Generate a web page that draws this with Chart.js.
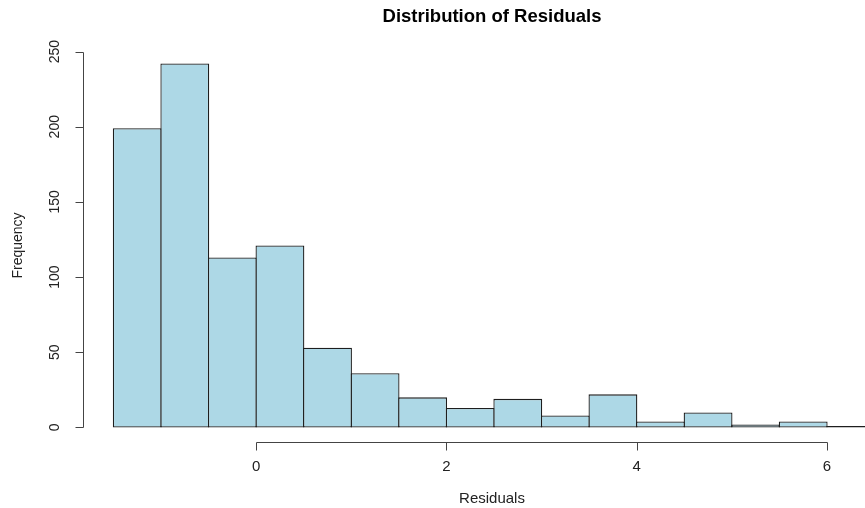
<!DOCTYPE html>
<html>
<head>
<meta charset="utf-8">
<script src="https://cdn.jsdelivr.net/npm/chart.js@4"></script>
<style>
  html, body { margin: 0; padding: 0; background: #fff; }
  #wrap { width: 865px; height: 508px; overflow: hidden; position: relative; }
  #chart { display: block; }
</style>
</head>
<body>
<div id="wrap"><canvas id="chart" width="910" height="508"></canvas></div>
<script>
// histogram data (bin edges + counts per bin)
const breaks = [-1.5, -1, -0.5, 0, 0.5, 1, 1.5, 2, 2.5, 3, 3.5, 4, 4.5, 5, 5.5, 6, 6.5];
const counts = [199, 242, 113, 121, 53, 36, 20, 13, 19, 8, 22, 4, 10, 2, 4, 1];
const xTicks = [0, 2, 4, 6];
const yTicks = [0, 50, 100, 150, 200, 250];

const titleText = 'Distribution of Residuals';
const xLabel = 'Residuals';
const yLabel = 'Frequency';

const FONT = "'Liberation Sans', Arial, Helvetica, sans-serif";

// R-style extension of the plot range (4% on each side)
const xlim = [breaks[0], breaks[breaks.length - 1]];
const xPad = (xlim[1] - xlim[0]) * 0.04;
const ylim = [0, Math.max(...counts)];
const yPad = (ylim[1] - ylim[0]) * 0.04;

const points = counts.map((c, i) => ({ x: (breaks[i] + breaks[i + 1]) / 2, y: c }));

// draws R base-graphics style axes, labels and title
const rAxes = {
  id: 'rAxes',
  afterDraw(chart) {
    const ctx = chart.ctx;
    const xs = chart.scales.x, ys = chart.scales.y;
    const area = chart.chartArea;
    const tick = 8;
    ctx.save();
    ctx.strokeStyle = '#444';
    ctx.fillStyle = '#222';
    ctx.lineWidth = 1;

    // y axis
    const ax = Math.round(area.left) + 0.5;
    ctx.beginPath();
    ctx.moveTo(ax, Math.round(ys.getPixelForValue(yTicks[0])) + 0.5);
    ctx.lineTo(ax, Math.round(ys.getPixelForValue(yTicks[yTicks.length - 1])) + 0.5);
    yTicks.forEach(v => {
      const py = Math.round(ys.getPixelForValue(v)) + 0.5;
      ctx.moveTo(ax, py);
      ctx.lineTo(ax - tick, py);
    });
    ctx.stroke();
    ctx.font = '14px ' + FONT;
    ctx.textAlign = 'center';
    ctx.textBaseline = 'middle';
    yTicks.forEach(v => {
      ctx.save();
      ctx.translate(55, ys.getPixelForValue(v));
      ctx.rotate(-Math.PI / 2);
      ctx.fillText(String(v), 0, 0);
      ctx.restore();
    });

    // x axis
    const ay = Math.round(area.bottom) + 0.5;
    ctx.beginPath();
    ctx.moveTo(Math.round(xs.getPixelForValue(xTicks[0])) + 0.5, ay);
    ctx.lineTo(Math.round(xs.getPixelForValue(xTicks[xTicks.length - 1])) + 0.5, ay);
    xTicks.forEach(v => {
      const px = Math.round(xs.getPixelForValue(v)) + 0.5;
      ctx.moveTo(px, ay);
      ctx.lineTo(px, ay + tick);
    });
    ctx.stroke();
    ctx.font = '15px ' + FONT;
    xTicks.forEach(v => {
      ctx.fillText(String(v), xs.getPixelForValue(v), 467);
    });

    // axis titles
    const cx = (area.left + area.right) / 2 - 2;
    ctx.fillText(xLabel, cx, 499);
    ctx.save();
    ctx.translate(18.5, (area.top + area.bottom) / 2);
    ctx.rotate(-Math.PI / 2);
    ctx.font = '14px ' + FONT;
    ctx.fillText(yLabel, 0, 0);
    ctx.restore();

    // main title
    ctx.fillStyle = '#000';
    ctx.font = 'bold 18.5px ' + FONT;
    ctx.fillText(titleText, cx, 17);
    ctx.restore();
  }
};

new Chart(document.getElementById('chart'), {
  type: 'bar',
  data: {
    datasets: [{
      data: points,
      backgroundColor: '#ADD8E6',
      borderColor: '#1e1e1e',
      borderWidth: 1.3,
      borderSkipped: false,
      barPercentage: 1.027,
      categoryPercentage: 1
    }]
  },
  options: {
    responsive: false,
    animation: false,
    devicePixelRatio: 1,
    layout: { padding: { left: 83, right: 5, top: 49, bottom: 66 } },
    plugins: {
      legend: { display: false },
      title: { display: false },
      tooltip: { enabled: false }
    },
    scales: {
      x: {
        type: 'linear',
        display: false,
        offset: false,
        min: xlim[0] - xPad,
        max: xlim[1] + xPad
      },
      y: {
        display: false,
        min: ylim[0] - yPad,
        max: ylim[1] + yPad
      }
    }
  },
  plugins: [rAxes]
});
</script>
</body>
</html>
